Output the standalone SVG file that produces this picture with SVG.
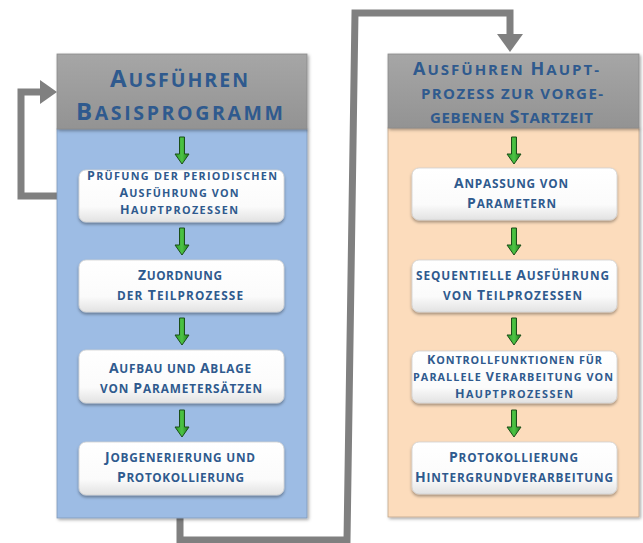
<svg xmlns="http://www.w3.org/2000/svg" width="643" height="543" viewBox="0 0 643 543">
<defs>
<style>
.t{font-family:"Open Sans","Noto Sans",sans-serif;font-weight:700;fill:#2F5A8E;text-anchor:middle}
.hd{font-size:19.5px}
.hd .c{font-size:24px}
.hd2{font-size:15px}
.hd2 .c{font-size:18px}
.bx{font-size:11.8px}
.bx .c{font-size:14px}
.bx3{font-size:10.8px}
.bx3 .c{font-size:12.5px}
.conn{fill:none;stroke:#808080;stroke-width:7;stroke-linejoin:miter}
.head{fill:#808080}
.box{fill:url(#wg);stroke:#D0D0D0;stroke-width:0.8;filter:url(#sh)}
</style>
<linearGradient id="wg" x1="0" y1="0" x2="0" y2="1">
<stop offset="0" stop-color="#FFFFFF"/><stop offset="0.7" stop-color="#FBFBFB"/><stop offset="1" stop-color="#E2E2E2"/>
</linearGradient>
<linearGradient id="gg" x1="0" y1="0" x2="0" y2="1">
<stop offset="0" stop-color="#A6A6A6"/><stop offset="1" stop-color="#939393"/>
</linearGradient>
<linearGradient id="arr" x1="0" y1="0" x2="1" y2="0">
<stop offset="0" stop-color="#2E9A2A"/><stop offset="0.5" stop-color="#4CC444"/><stop offset="1" stop-color="#1F7A1C"/>
</linearGradient>
<filter id="sh" x="-10%" y="-20%" width="120%" height="150%">
<feDropShadow dx="0" dy="2" stdDeviation="1.5" flood-color="#000" flood-opacity="0.35"/>
</filter>
<filter id="psh" x="-10%" y="-10%" width="120%" height="120%">
<feDropShadow dx="1.5" dy="1.5" stdDeviation="1.5" flood-color="#000" flood-opacity="0.35"/>
</filter>
<path id="ga" d="M-2.5,0 H2.5 V17 H7 L0,27 L-7,17 H-2.5 Z" fill="url(#arr)" stroke="#1B4F19" stroke-width="1"/>
</defs>
<rect width="643" height="543" fill="#FFFFFF"/>

<g id="connectors">
<polyline class="conn" points="79,196 21,196 21,92 42,92"/>
<polygon class="head" points="40,80 57,92 40,104"/>
<polyline class="conn" points="180,518 180,540 347,540 355,13 510,13 510,36"/>
<polygon class="head" points="497,34 523,34 510,52"/>
</g>

<g id="panel-left">
<rect x="57" y="129" width="250" height="389" fill="#9DBCE4" stroke="#7F98B8" stroke-width="0.8" filter="url(#psh)"/>
<rect x="57" y="54" width="250" height="75" fill="url(#gg)" stroke="#8A8A8A" stroke-width="0.8" filter="url(#psh)"/>
<text class="t hd" x="179" y="87" textLength="138" lengthAdjust="spacing"><tspan class="c">A</tspan>USFÜHREN</text>
<text class="t hd" x="179.5" y="120" textLength="207" lengthAdjust="spacing"><tspan class="c">B</tspan>ASISPROGRAMM</text>
</g>

<g id="panel-right">
<rect x="388" y="128" width="251" height="389" fill="#FCDCBC" stroke="#BFA68C" stroke-width="0.8" filter="url(#psh)"/>
<rect x="388" y="54" width="251" height="74" fill="url(#gg)" stroke="#8A8A8A" stroke-width="0.8" filter="url(#psh)"/>
<text class="t hd2" x="506" y="75" textLength="186" lengthAdjust="spacing"><tspan class="c">A</tspan>USFÜHREN <tspan class="c">H</tspan>AUPT-</text>
<text class="t hd2" x="512" y="99" textLength="182" lengthAdjust="spacing">PROZESS ZUR VORGE-</text>
<text class="t hd2" x="511.5" y="123" textLength="163" lengthAdjust="spacing">GEBENEN <tspan class="c">S</tspan>TARTZEIT</text>
</g>

<g id="arrows-left">
<use href="#ga" x="182" y="137"/>
<use href="#ga" x="182" y="228"/>
<use href="#ga" x="182" y="318"/>
<use href="#ga" x="182" y="410"/>
</g>
<g id="arrows-right">
<use href="#ga" x="514" y="137"/>
<use href="#ga" x="514" y="228"/>
<use href="#ga" x="514" y="318"/>
<use href="#ga" x="514" y="410"/>
</g>

<g id="node-l1">
<rect class="box" x="79" y="170" width="205" height="52" rx="7"/>
<text class="t bx3" x="182" y="179.5" textLength="190" lengthAdjust="spacing"><tspan class="c">P</tspan>RÜFUNG DER PERIODISCHEN</text>
<text class="t bx3" x="179" y="196.5" textLength="119" lengthAdjust="spacing"><tspan class="c">A</tspan>USFÜHRUNG VON</text>
<text class="t bx3" x="179" y="213.5" textLength="118" lengthAdjust="spacing"><tspan class="c">H</tspan>AUPTPROZESSEN</text>
</g>
<g id="node-l2">
<rect class="box" x="79" y="260" width="205" height="52" rx="7"/>
<text class="t bx" x="180" y="280" textLength="84" lengthAdjust="spacing"><tspan class="c">Z</tspan>UORDNUNG</text>
<text class="t bx" x="180" y="300" textLength="126" lengthAdjust="spacing">DER <tspan class="c">T</tspan>EILPROZESSE</text>
</g>
<g id="node-l3">
<rect class="box" x="79" y="350" width="205" height="53" rx="7"/>
<text class="t bx" x="180" y="373" textLength="142" lengthAdjust="spacing"><tspan class="c">A</tspan>UFBAU UND <tspan class="c">A</tspan>BLAGE</text>
<text class="t bx" x="181" y="393" textLength="162" lengthAdjust="spacing">VON <tspan class="c">P</tspan>ARAMETERSÄTZEN</text>
</g>
<g id="node-l4">
<rect class="box" x="79" y="442" width="205" height="53" rx="7"/>
<text class="t bx" x="180" y="462" textLength="150" lengthAdjust="spacing"><tspan class="c">J</tspan>OBGENERIERUNG UND</text>
<text class="t bx" x="180.5" y="482" textLength="127" lengthAdjust="spacing"><tspan class="c">P</tspan>ROTOKOLLIERUNG</text>
</g>

<g id="node-r1">
<rect class="box" x="412" y="168" width="205" height="52" rx="7"/>
<text class="t bx" x="511" y="188" textLength="114" lengthAdjust="spacing"><tspan class="c">A</tspan>NPASSUNG VON</text>
<text class="t bx" x="511.5" y="208" textLength="89" lengthAdjust="spacing"><tspan class="c">P</tspan>ARAMETERN</text>
</g>
<g id="node-r2">
<rect class="box" x="412" y="260" width="205" height="52" rx="7"/>
<text class="t bx" x="512.5" y="280" textLength="193" lengthAdjust="spacing">SEQUENTIELLE <tspan class="c">A</tspan>USFÜHRUNG</text>
<text class="t bx" x="512.5" y="300" textLength="139" lengthAdjust="spacing">VON <tspan class="c">T</tspan>EILPROZESSEN</text>
</g>
<g id="node-r3">
<rect class="box" x="412" y="351" width="205" height="52" rx="7"/>
<text class="t bx3" x="514.5" y="364" textLength="175" lengthAdjust="spacing"><tspan class="c">K</tspan>ONTROLLFUNKTIONEN FÜR</text>
<text class="t bx3" x="513" y="380.5" textLength="200" lengthAdjust="spacing">PARALLELE <tspan class="c">V</tspan>ERARBEITUNG VON</text>
<text class="t bx3" x="514" y="397.5" textLength="118" lengthAdjust="spacing"><tspan class="c">H</tspan>AUPTPROZESSEN</text>
</g>
<g id="node-r4">
<rect class="box" x="412" y="442" width="205" height="52" rx="7"/>
<text class="t bx" x="513.5" y="462" textLength="129" lengthAdjust="spacing"><tspan class="c">P</tspan>ROTOKOLLIERUNG</text>
<text class="t bx" x="514" y="482" textLength="198" lengthAdjust="spacing"><tspan class="c">H</tspan>INTERGRUNDVERARBEITUNG</text>
</g>
</svg>
